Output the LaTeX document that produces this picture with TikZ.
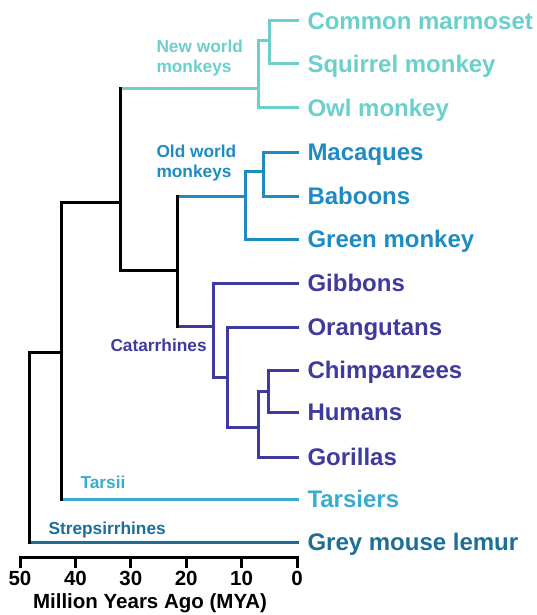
\documentclass[tikz,border=0pt]{standalone}
\usepackage{fontspec}
\setmainfont{Liberation Sans}

\definecolor{nuovo}{HTML}{6BCFCB}
\definecolor{vecchio}{HTML}{1E8BC3}
\definecolor{catarr}{HTML}{3F3A9E}
\definecolor{tarsi}{HTML}{3AACD0}
\definecolor{strep}{HTML}{1F6E98}

\begin{document}
\begin{tikzpicture}[x=1pt, y=-1pt, line width=3pt, line cap=rect]
			\tikzset{specie/.style={anchor=west, inner xsep=9pt, inner ysep=0pt, text height=17pt, text depth=0pt, font=\fontsize{24}{24}\selectfont\bfseries},
				gruppo/.style={anchor=west, align=left, inner sep=0pt, font=\fontsize{17.3}{20}\selectfont\bfseries},
				asse/.style={inner sep=0pt, font=\fontsize{20.5}{20}\selectfont\bfseries}}
			\useasboundingbox (0,0) rectangle (536,615);
			
			% Foglie (specie)
			\node[specie, nuovo] (marm) at (297, 21) {Common marmoset};
			\node[specie, nuovo] (squi) at (297, 64) {Squirrel monkey};
			\node[specie, nuovo] (owl) at (297, 108) {Owl monkey};
			\node[specie, vecchio] (maca) at (297, 152) {Macaques};
			\node[specie, vecchio] (babo) at (297, 196) {Baboons};
			\node[specie, vecchio] (gree) at (297, 239) {Green monkey};
			\node[specie, catarr] (gibb) at (297, 283) {Gibbons};
			\node[specie, catarr] (oran) at (297, 327) {Orangutans};
			\node[specie, catarr] (chim) at (297, 370) {Chimpanzees};
			\node[specie, catarr] (huma) at (297, 412) {Humans};
			\node[specie, catarr] (gori) at (297, 457) {Gorillas};
			\node[specie, tarsi] (tars) at (297, 499) {Tarsiers};
			\node[specie, strep] (lemu) at (297, 542) {Grey mouse lemur};
			
			% Nodi interni
			\coordinate (csq) at (269, 41);
			\coordinate (nwm) at (258, 89);
			\coordinate (nw0) at (120, 89);
			\coordinate (mb) at (263, 171);
			\coordinate (owm) at (245, 196);
			\coordinate (ow0) at (177, 196);
			\coordinate (ch) at (268, 391);
			\coordinate (hcg) at (258, 427);
			\coordinate (gap) at (227, 377);
			\coordinate (catm) at (213, 326);
			\coordinate (cat0) at (177, 326);
			\coordinate (cat1) at (177, 270);
			\coordinate (ant1) at (120, 270);
			\coordinate (anth) at (120, 202);
			\coordinate (hap) at (61, 202);
			\coordinate (tar0) at (61, 499);
			\coordinate (hap1) at (61, 352);
			\coordinate (root) at (29, 352);
			\coordinate (lem0) at (29, 542);
			
			% Scimmie del nuovo mondo
			\draw[nuovo] (csq) |- (marm.west);
			\draw[nuovo] (csq) |- (squi.west);
			\draw[nuovo] (nwm) |- (csq);
			\draw[nuovo] (nwm) |- (owl.west);
			\draw[nuovo] (nw0) -- (nwm);
			
			% Scimmie del vecchio mondo
			\draw[vecchio] (mb) |- (maca.west);
			\draw[vecchio] (mb) |- (babo.west);
			\draw[vecchio] (owm) |- (mb);
			\draw[vecchio] (owm) |- (gree.west);
			\draw[vecchio] (ow0) -- (owm);
			
			% Catarrhines
			\draw[catarr] (ch) |- (chim.west);
			\draw[catarr] (ch) |- (huma.west);
			\draw[catarr] (hcg) |- (ch);
			\draw[catarr] (hcg) |- (gori.west);
			\draw[catarr] (gap) |- (oran.west);
			\draw[catarr] (gap) |- (hcg);
			\draw[catarr] (catm) |- (gibb.west);
			\draw[catarr] (catm) |- (gap);
			\draw[catarr] (cat0) -- (catm);
			
			% Tarsii e Strepsirrhines
			\draw[tarsi] (tar0) -- (tars.west);
			\draw[strep] (lem0) -- (lemu.west);
			
			% Rami neri
			\draw (nw0) -- (ant1) -- (cat1);
			\draw (ow0) -- (cat0);
			\draw (hap) -- (anth);
			\draw (hap) -- (tar0);
			\draw (root) -- (hap1);
			\draw (root) -- (lem0);
			
			% Etichette dei gruppi
			\node[gruppo, nuovo] (lnw) at (155, 58) {New world\\monkeys};
			\node[gruppo, vecchio] (low) at (155, 163) {Old world\\monkeys};
			\node[gruppo, catarr] (lcat) at (109, 345) {Catarrhines};
			\node[gruppo, tarsi] (ltar) at (79, 482) {Tarsii};
			\node[gruppo, strep] (lstr) at (47, 530) {Strepsirrhines};
			
			% Asse dei tempi
			\draw (20, 566) -- (20, 557) -- (297, 557) -- (297, 566);
			\draw (75.4, 557) -- (75.4, 566);
			\draw (130.8, 557) -- (130.8, 566);
			\draw (186.2, 557) -- (186.2, 566);
			\draw (241.6, 557) -- (241.6, 566);
			\node[asse] (t50) at (20, 578) {50};
			\node[asse] (t40) at (75.4, 578) {40};
			\node[asse] (t30) at (130.8, 578) {30};
			\node[asse] (t20) at (186.2, 578) {20};
			\node[asse] (t10) at (241.6, 578) {10};
			\node[asse] (t0) at (297, 578) {0};
			\node[asse] (tit) at (150, 603) {Million Years Ago (MYA)};
		\end{tikzpicture}
\end{document}
